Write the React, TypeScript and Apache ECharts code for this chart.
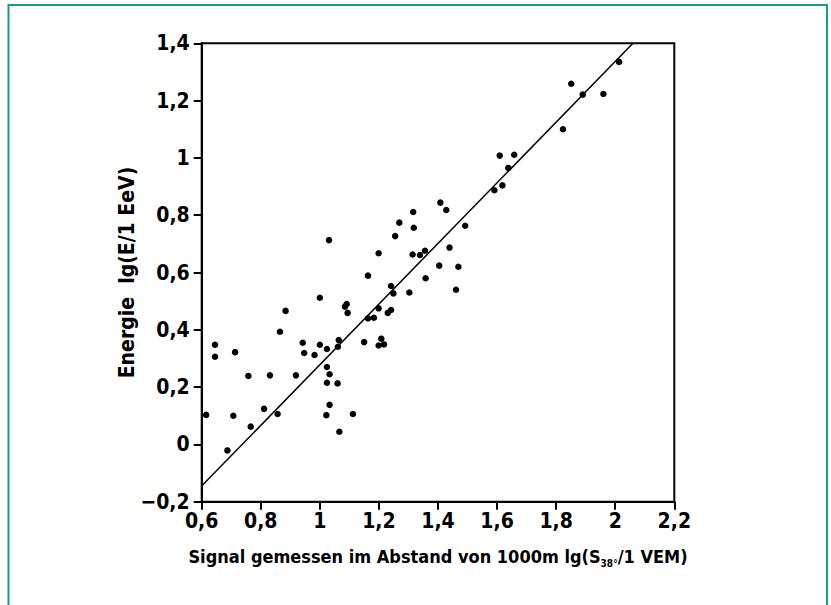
import React, { useEffect, useRef } from "react";
import * as echarts from "echarts";

const xTicks = [0.6, 0.8, 1, 1.2, 1.4, 1.6, 1.8, 2, 2.2];
const yTicks = [-0.2, 0, 0.2, 0.4, 0.6, 0.8, 1, 1.2, 1.4];

const signal = [
  0.615, 0.645, 0.645, 0.713, 0.707, 0.687, 0.758, 0.766, 0.811, 0.831,
  0.857, 0.865, 0.884, 0.919, 0.942, 0.947, 0.982, 1.0, 1.0, 1.024,
  1.031, 1.024, 1.033, 1.024, 1.06, 1.033, 1.022, 1.066, 1.112, 1.064,
  1.061, 1.085, 1.091, 1.094, 1.15, 1.163, 1.163, 1.183, 1.199, 1.199,
  1.199, 1.208, 1.217, 1.23, 1.241, 1.241, 1.249, 1.255, 1.269, 1.303,
  1.314, 1.316, 1.318, 1.339, 1.356, 1.358, 1.404, 1.408, 1.428, 1.439,
  1.461, 1.469, 1.492, 1.591, 1.609, 1.618, 1.638, 1.658, 1.823, 1.851,
  1.89, 1.96, 2.013,
];
const energy = [
  0.103, 0.348, 0.306, 0.322, 0.1, -0.021, 0.239, 0.062, 0.124, 0.241,
  0.106, 0.393, 0.466, 0.241, 0.355, 0.319, 0.312, 0.512, 0.348, 0.333,
  0.713, 0.27, 0.245, 0.215, 0.213, 0.138, 0.102, 0.044, 0.106, 0.364,
  0.341, 0.481, 0.49, 0.459, 0.357, 0.589, 0.44, 0.442, 0.667, 0.475,
  0.345, 0.369, 0.349, 0.459, 0.469, 0.553, 0.527, 0.727, 0.774, 0.53,
  0.663, 0.811, 0.756, 0.661, 0.676, 0.58, 0.624, 0.844, 0.818, 0.687,
  0.54, 0.62, 0.763, 0.887, 1.008, 0.904, 0.965, 1.011, 1.1, 1.259,
  1.221, 1.223, 1.335,
];
const fitX = [0.603, 2.06];
const fitY = [-0.142, 1.4];

const FONT = "'DejaVu Sans Condensed', 'Liberation Sans Narrow', 'Liberation Sans', sans-serif";

function fmt(v: number): string {
  const r = Math.round(v * 10) / 10;
  const s = String(Math.abs(r)).replace(".", ",");
  return r < 0 ? "\u2212" + s : s;
}

export default function App() {
  const ref = useRef<HTMLDivElement>(null);
  useEffect(() => {
    if (!ref.current) return;
    const chart = echarts.init(ref.current, undefined, { renderer: "svg" });
    const points = signal.map((x, i) => [x, energy[i]]);
    const line = fitX.map((x, i) => [x, fitY[i]]);
    chart.setOption({
      animation: false,
      backgroundColor: "#ffffff",
      grid: {
        left: 201.7,
        right: 156.7,
        top: 43.3,
        bottom: 103.3,
        show: true,
        borderColor: "#000",
        borderWidth: 2,
        backgroundColor: "transparent",
      },
      xAxis: {
        type: "value",
        min: xTicks[0],
        max: xTicks[xTicks.length - 1],
        interval: 0.2,
        splitLine: { show: false },
        axisLine: { show: true, onZero: false, lineStyle: { color: "#000", width: 2 } },
        axisTick: { show: true, length: 8, lineStyle: { color: "#000", width: 2 } },
        axisLabel: {
          formatter: (v: number) => fmt(v),
          fontFamily: FONT,
          fontWeight: "bold",
          fontSize: 21,
          color: "#000",
          margin: 9,
        },
        name: "{n|Signal gemessen im Abstand von 1000m lg(S}{s|38°}{n|/1 VEM)}",
        nameLocation: "middle",
        nameGap: 43,
        nameTextStyle: {
          rich: {
            n: { fontFamily: FONT, fontWeight: "bold", fontSize: 18, color: "#000", lineHeight: 24 },
            s: {
              fontFamily: FONT,
              fontWeight: "bold",
              fontSize: 10,
              color: "#000",
              lineHeight: 24,
              verticalAlign: "bottom",
              padding: [8, 0, 0, 0],
            },
          },
        },
      },
      yAxis: {
        type: "value",
        min: yTicks[0],
        max: yTicks[yTicks.length - 1],
        interval: 0.2,
        splitLine: { show: false },
        axisLine: { show: true, onZero: false, lineStyle: { color: "#000", width: 2 } },
        axisTick: { show: true, length: 8, lineStyle: { color: "#000", width: 2 } },
        axisLabel: {
          formatter: (v: number) => fmt(v),
          fontFamily: FONT,
          fontWeight: "bold",
          fontSize: 21,
          color: "#000",
          margin: 12,
        },
        name: "Energie  lg(E/1 EeV)",
        nameLocation: "middle",
        nameGap: 64,
        nameMoveOverlap: false,
        nameRotate: 90,
        nameTextStyle: {
          fontFamily: FONT,
          fontWeight: "bold",
          fontSize: 21,
          color: "#000",
        },
      },
      graphic: [
        {
          type: "polyline",
          shape: { points: [[8.5, 605], [8.5, 5], [827, 5], [827, 605]] },
          style: { stroke: "#19998a", lineWidth: 2, fill: "none" },
          silent: true,
        },
      ],
      series: [
        {
          type: "scatter",
          data: points,
          symbol: "circle",
          symbolSize: 6.5,
          itemStyle: { color: "#000", opacity: 1 },
          silent: true,
        },
        {
          type: "line",
          data: line,
          symbol: "none",
          lineStyle: { color: "#000", width: 1.5 },
          silent: true,
        },
      ],
    });
    return () => chart.dispose();
  }, []);
  return (
    <div
      ref={ref}
      style={{ position: "absolute", left: 0, top: 0, width: 831, height: 605 }}
    />
  );
}
